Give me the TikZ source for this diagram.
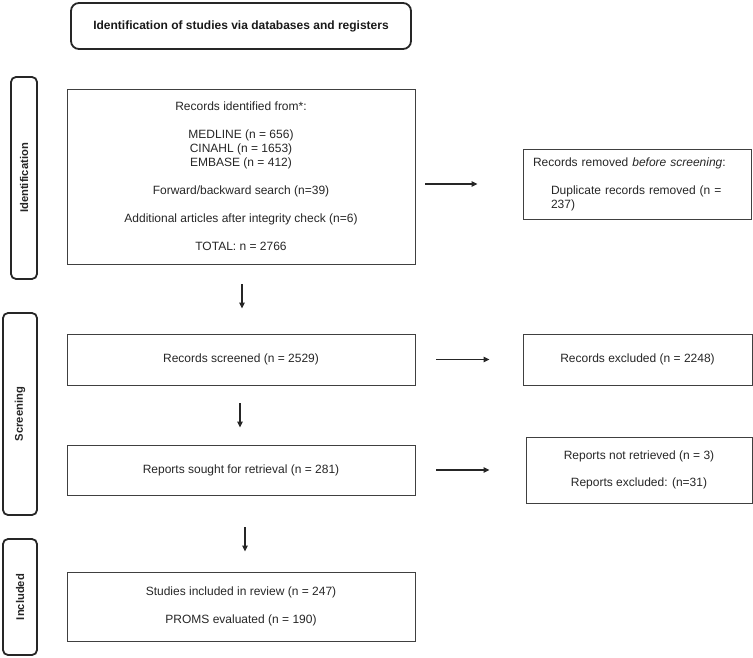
\documentclass[tikz,border=0pt]{standalone}
\usepackage{fontspec}
\setmainfont{Liberation Sans}
\usetikzlibrary{arrows.meta}
\begin{document}
\begin{tikzpicture}[x=1pt,y=-1pt,
  box/.style={draw=black!75, line width=0.9pt, inner sep=0pt, align=center, text=black!85, font=\fontsize{12}{14}\selectfont},
  phase/.style={draw=black!85, line width=1.8pt, rounded corners=5pt, inner sep=0pt},
  phaselabel/.style={rotate=90, text=black!85, font=\bfseries\fontsize{11.2}{13}\selectfont},
  arr/.style={draw=black!85, line width=1.1pt, -{Triangle[length=6pt,width=5.5pt]}}]
\useasboundingbox (0,0) rectangle (753,658);

% header
\node[phase, rounded corners=8pt, minimum width=340pt, minimum height=46pt, font=\bfseries\fontsize{12}{14}\selectfont, text=black!90] (head) at (241,26) {Identification of studies via databases and registers};

% phase bars
\node[phase, minimum width=26pt, minimum height=202pt] (pid) at (24,178) {};
\node[phaselabel] (pidl) at (pid.center) {Identification};
\node[phase, minimum width=34pt, minimum height=202pt] (pscr) at (20,414) {};
\node[phaselabel] (pscrl) at (pscr.center) {Screening};
\node[phase, minimum width=34pt, minimum height=116pt] (pinc) at (20,597) {};
\node[phaselabel] (pincl) at (pinc.center) {Included};

% main boxes
\node[box, minimum width=348pt, minimum height=175pt] (ident) at (241,176.5) {Records identified from*:\\[14pt]
MEDLINE (n = 656)\\
CINAHL (n = 1653)\\
EMBASE (n = 412)\\[14pt]
Forward/backward search (n=39)\\[14pt]
Additional articles after integrity check (n=6)\\[14pt]
TOTAL: n = 2766};

\node[box, minimum width=228pt, minimum height=70pt, text width=208pt, align=left] (removed) at (637,184) {Records removed \textit{before screening}:\\[14pt]
\hspace*{18pt}Duplicate records removed (n =\\
\hspace*{18pt}237)};

\node[box, minimum width=348pt, minimum height=51pt] (screened) at (241,359.5) {Records screened (n = 2529)};
\node[box, minimum width=229pt, minimum height=51pt] (excluded) at (637.5,359.5) {Records excluded (n = 2248)};

\node[box, minimum width=348pt, minimum height=50pt] (sought) at (241,470) {Reports sought for retrieval (n = 281)};
\node[box, minimum width=226pt, minimum height=66pt] (notret) at (639,470) {Reports not retrieved (n = 3)\\[13pt]
Reports excluded: (n=31)};

\node[box, minimum width=348pt, minimum height=69pt] (included) at (241,606.5) {Studies included in review (n = 247)\\[14pt]
PROMS evaluated (n = 190)};

% arrows
\draw[arr, shorten <=10pt, shorten >=45pt] (ident.east |- removed.west) -- (removed.west);
\draw[arr, shorten <=21pt, shorten >=33pt] (screened.east) -- (excluded.west);
\draw[arr, shorten <=21pt, shorten >=36pt] (sought.east) -- (notret.west);
\draw[arr, shorten <=20pt, shorten >=25pt] ([xshift=1pt]ident.south) -- ([xshift=1pt]screened.north);
\draw[arr, shorten <=18pt, shorten >=17pt] ([xshift=-1pt]screened.south) -- ([xshift=-1pt]sought.north);
\draw[arr, shorten <=32pt, shorten >=20pt] ([xshift=4pt]sought.south) -- ([xshift=4pt]included.north);
\end{tikzpicture}
\end{document}
